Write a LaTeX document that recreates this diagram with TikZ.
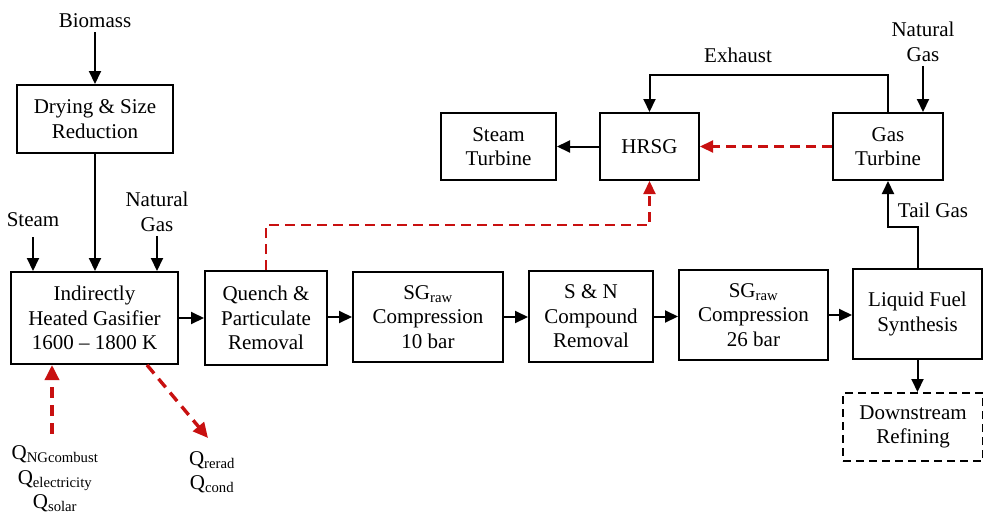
\documentclass[tikz,border=0pt]{standalone}
\usepackage{fontspec}
\setmainfont{Liberation Serif}
\usepackage{xcolor}
\usepackage{tikz}
\usetikzlibrary{arrows.meta}

\definecolor{heatred}{RGB}{200,16,16}

\begin{document}
\begin{tikzpicture}[
  x=1pt, y=-1pt,
  box/.style={draw=black, line width=2pt, inner sep=0pt, align=center,
              font=\fontsize{21}{24.5}\selectfont},
  lbl/.style={inner sep=4pt, align=center, font=\fontsize{21}{24.5}\selectfont},
  arr/.style={-{Triangle[length=13pt,width=12pt]}, line width=2pt, draw=black},
  heat/.style={-{Triangle[length=13pt,width=12pt]}, line width=2.2pt, draw=heatred,
               dash pattern=on 10pt off 6pt},
  hot/.style={-{Triangle[length=15pt,width=14pt]}, line width=3.4pt, draw=heatred,
              dash pattern=on 11pt off 7pt}
]
  \useasboundingbox (0,0) rectangle (983,515);

  % Nodes
  \node[box, minimum width=156pt, minimum height=68pt] (dry)    at (95,119)    {Drying \& Size\\Reduction};
  \node[box, minimum width=167pt, minimum height=92pt] (gasif)  at (94.5,318)  {Indirectly\\Heated Gasifier\\1600 -- 1800 K};
  \node[box, minimum width=122pt, minimum height=94pt] (quench) at (266,318)   {Quench \&\\Particulate\\Removal};
  \node[box, minimum width=150pt, minimum height=90pt] (comp1)  at (428,317)   {SG\textsubscript{raw}\\Compression\\10 bar};
  \node[box, minimum width=124pt, minimum height=91pt] (snrem)  at (591,316.5) {S \& N\\Compound\\Removal};
  \node[box, minimum width=149pt, minimum height=90pt] (comp2)  at (753.5,315) {SG\textsubscript{raw}\\Compression\\26 bar};
  \node[box, minimum width=129pt, minimum height=90pt] (lfs)    at (917.5,314) {Liquid Fuel\\Synthesis};
  \node[box, dashed, dash pattern=on 8pt off 5pt, minimum width=140pt, minimum height=68pt]
                                                      (down)   at (913,427)   {Downstream\\Refining};
  \node[box, minimum width=115pt, minimum height=67pt] (sturb)  at (498.5,146.5) {Steam\\Turbine};
  \node[box, minimum width=99pt, minimum height=67pt]  (hrsg)   at (649.5,146.5) {HRSG};
  \node[box, minimum width=110pt, minimum height=67pt] (gturb)  at (888,146.5)   {Gas\\Turbine};

  % Stream labels
  \node[lbl] (biomass) at (95,21)   {Biomass};
  \node[lbl] (steam)   at (33,220)  {Steam};
  \node[lbl] (nggas)   at (157,212) {Natural\\Gas};
  \node[lbl] (ngturb)  at (923,42)  {Natural\\Gas};
  \node[lbl] (exhaust) at (738,55)  {Exhaust};
  \node[lbl] (tailgas) at (933,210) {Tail Gas};
  \node[lbl] (qin)  at (55,479)  {Q\textsubscript{NGcombust}\\Q\textsubscript{electricity}\\Q\textsubscript{solar}};
  \node[lbl] (qout) at (212,472) {Q\textsubscript{rerad}\\Q\textsubscript{cond}};
  \coordinate (qoutend) at (208,438);

  % Feeds
  \draw[arr] (biomass.south) -- (dry.north);
  \draw[arr] (dry.south) -- (dry.south |- gasif.north);
  \draw[arr] (steam.south) ++(0,6) -- (steam.south |- gasif.north);
  \draw[arr] (nggas.south) -- (nggas.south |- gasif.north);
  \draw[arr] (ngturb.south) -- (ngturb.south |- gturb.north);

  % Main train
  \draw[arr] (gasif.east) -- (gasif.east -| quench.west);
  \draw[arr] (quench.east |- comp1) -- (comp1.west);
  \draw[arr] (comp1.east) -- (comp1.east -| snrem.west);
  \draw[arr] (snrem.east) -- (snrem.east -| comp2.west);
  \draw[arr] (comp2.east) -- (comp2.east -| lfs.west);
  \draw[arr] (lfs.south) -- (lfs.south |- down.north);

  % Power block
  \draw[arr] (lfs.north) -- ++(0,-41) -| (gturb.south);
  \draw[arr] (gturb.north) -- ++(0,-37) -| (hrsg.north);
  \draw[arr] (hrsg.west) -- (sturb.east);
  \draw[heat] (gturb.west) -- (hrsg.east);
  \draw[heat] (quench.north) -- ++(0,-45) -| (hrsg.south);

  % Heat in / losses
  \draw[hot] ([xshift=-3pt]qin.north) ++(0,-8) -- ([xshift=-42.5pt]gasif.south);
  \draw[hot] ([xshift=52.5pt]gasif.south) -- (qoutend);
\end{tikzpicture}
\end{document}
